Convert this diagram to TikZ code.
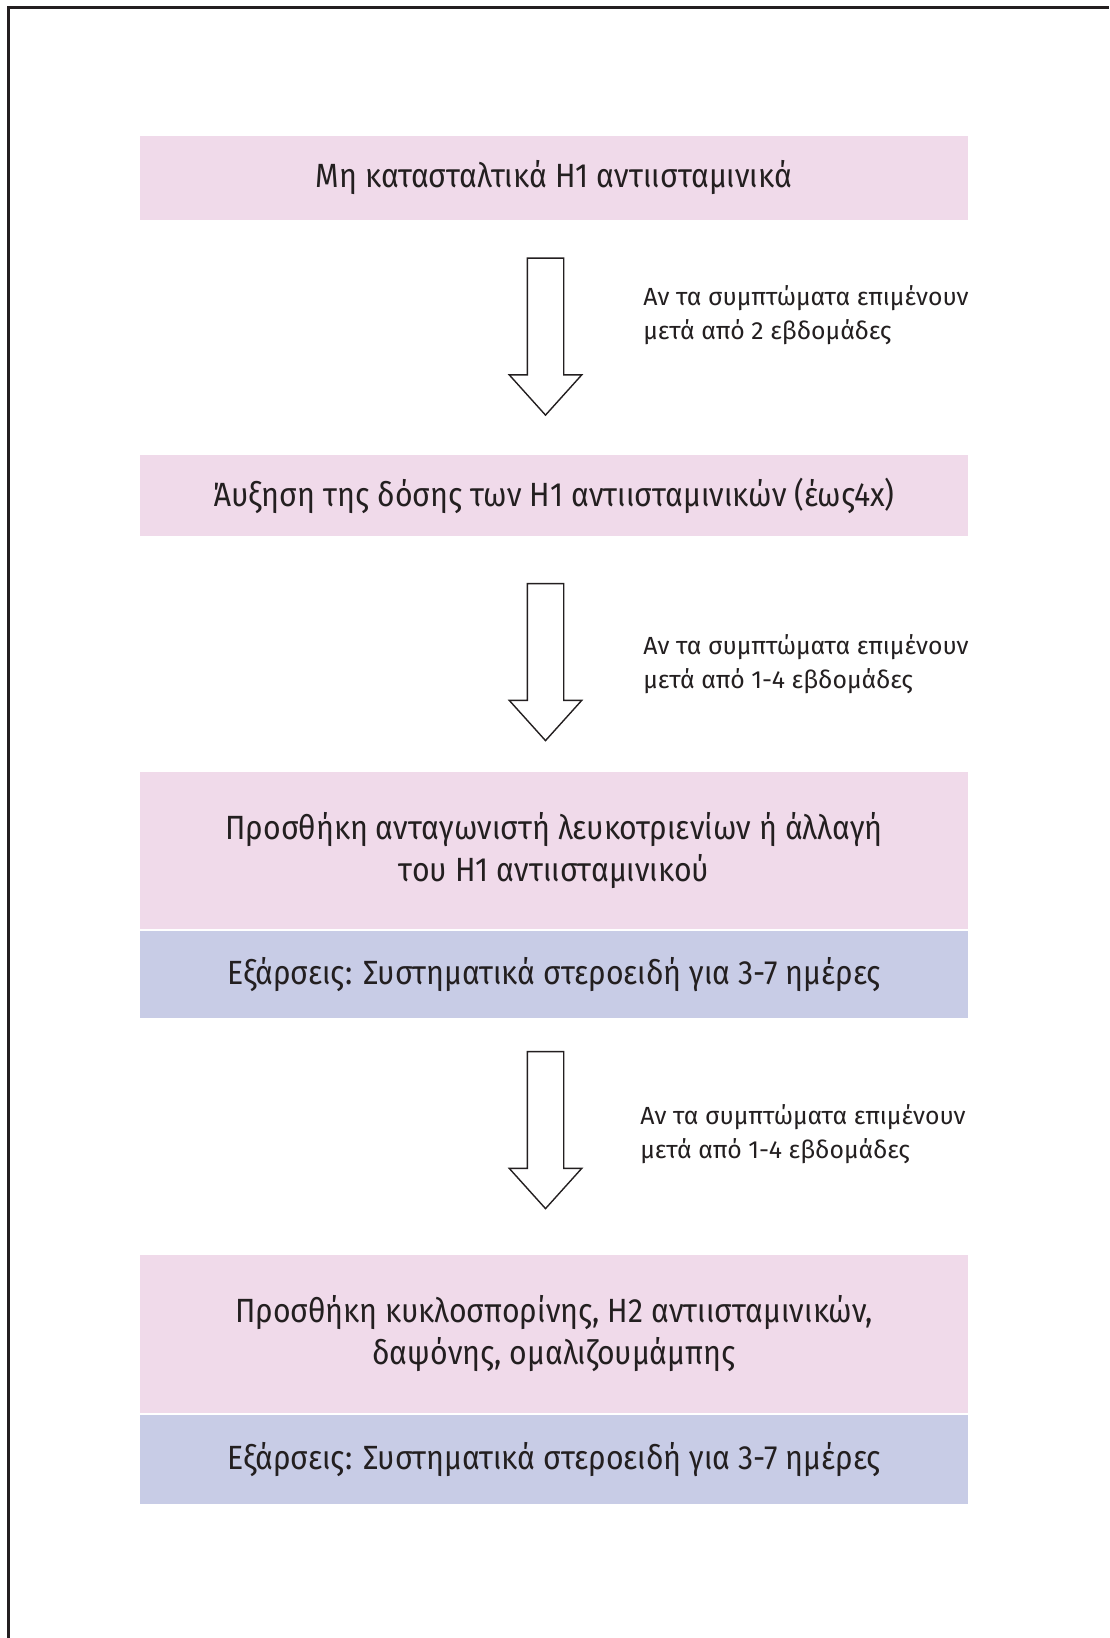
\documentclass[tikz,border=0pt]{standalone}
\usepackage{fontspec}
\setmainfont{Fira Sans}
\newfontfamily\boxfont{Fira Sans}[FakeStretch=0.9]
\usetikzlibrary{shapes.arrows, positioning}
\definecolor{steppink}{RGB}{240,218,234}
\definecolor{flareblue}{RGB}{200,204,230}
\definecolor{inkgray}{RGB}{35,31,32}

\begin{document}
\begin{tikzpicture}[x=0.5pt, y=-0.5pt,
  pinkbox/.style={fill=steppink, minimum width=414pt, inner sep=0pt, outer sep=0pt, text=inkgray, font=\boxfont\fontsize{16.8}{21}\selectfont, align=center},
  bluebox/.style={pinkbox, fill=flareblue},
  downarrow/.style={draw=inkgray, line width=0.7pt, fill=white, single arrow, single arrow head extend=9pt, single arrow tip angle=84, minimum height=78.5pt, inner xsep=0pt, inner ysep=8.75pt, rotate=-90},
  note/.style={anchor=west, align=left, text=inkgray, inner sep=0pt, font=\fontsize{12.4}{17}\selectfont}]

  \useasboundingbox (0,0) rectangle (1109,1638);
  % page frame, top and left edge only
  \draw[inkgray, line width=1.5pt] (8.5,1638) -- (8.5,7.5) -- (1109,7.5);

  % treatment steps
  \node[pinkbox, minimum height=42pt] (step1) at (554,178) {Μη κατασταλτικά H1 αντιισταμινικά};
  \node[pinkbox, minimum height=40.5pt] (step2) at (554,495.5) {Άυξηση της δόσης των H1 αντιισταμινικών (έως4x)};
  \node[pinkbox, minimum height=78.5pt] (step3) at (554,850.5) {Προσθήκη ανταγωνιστή λευκοτριενίων ή άλλαγή\\του H1 αντιισταμινικού};
  \node[bluebox, minimum height=43.5pt, below=1pt of step3] (flare3) {Εξάρσεις: Συστηματικά στεροειδή για 3-7 ημέρες};
  \node[pinkbox, minimum height=79pt] (step4) at (554,1334) {Προσθήκη κυκλοσπορίνης, H2 αντιισταμινικών,\\δαψόνης, ομαλιζουμάμπης};
  \node[bluebox, minimum height=44.5pt, below=1pt of step4] (flare4) {Εξάρσεις: Συστηματικά στεροειδή για 3-7 ημέρες};

  % block arrows
  \node[downarrow] (go1) at (545.5,326.5) {};
  \node[downarrow] (go2) at (545.5,652) {};
  \node[downarrow] (go3) at (545.5,1120) {};

  % conditions
  \node[note] (when1) at (643,315) {Αν τα συμπτώματα επιμένουν\\μετά από 2 εβδομάδες};
  \node[note] (when2) at (643,664) {Αν τα συμπτώματα επιμένουν\\μετά από 1-4 εβδομάδες};
  \node[note] (when3) at (640,1134.5) {Αν τα συμπτώματα επιμένουν\\μετά από 1-4 εβδομάδες};
\end{tikzpicture}
\end{document}
